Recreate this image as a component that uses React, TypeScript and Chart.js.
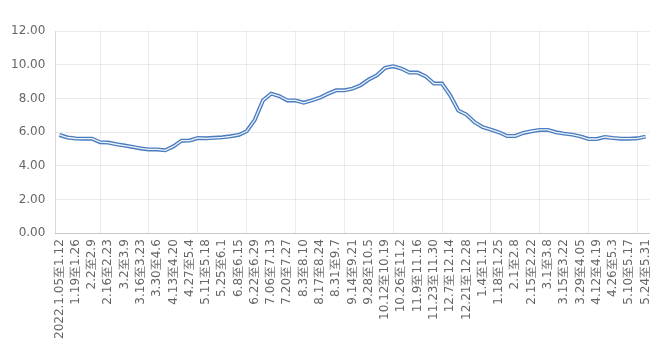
import React, { useEffect, useRef } from "react";
import { Chart, registerables } from "chart.js";

Chart.register(...registerables);

const weekLabels: string[] = [
  "2022.1.05至1.12", "1.12至1.19", "1.19至1.26", "1.26至2.2", "2.2至2.9", "2.9至2.16",
  "2.16至2.23", "2.23至3.2", "3.2至3.9", "3.9至3.16", "3.16至3.23", "3.23至3.30",
  "3.30至4.6", "4.6至4.13", "4.13至4.20", "4.20至4.27", "4.27至5.4", "5.4至5.11",
  "5.11至5.18", "5.18至5.25", "5.25至6.1", "6.1至6.8", "6.8至6.15", "6.15至6.22",
  "6.22至6.29", "6.29至7.06", "7.06至7.13", "7.13至7.20", "7.20至7.27", "7.27至8.3",
  "8.3至8.10", "8.10至8.17", "8.17至8.24", "8.24至8.31", "8.31至9.7", "9.7至9.14",
  "9.14至9.21", "9.21至9.28", "9.28至10.5", "10.5至10.12", "10.12至10.19", "10.19至10.26",
  "10.26至11.2", "11.2至11.9", "11.9至11.16", "11.16至11.23", "11.23至11.30", "11.30至12.7",
  "12.7至12.14", "12.14至12.21", "12.21至12.28", "12.28至1.4", "1.4至1.11", "1.11至1.18",
  "1.18至1.25", "1.25至2.1", "2.1至2.8", "2.8至2.15", "2.15至2.22", "2.22至3.1",
  "3.1至3.8", "3.8至3.15", "3.15至3.22", "3.22至3.29", "3.29至4.05", "4.05至4.12",
  "4.12至4.19", "4.19至4.26", "4.26至5.3", "5.3至5.10", "5.10至5.17", "5.17至5.24",
  "5.24至5.31",
];

const priceValues: number[] = [
  5.83, 5.68, 5.62, 5.61, 5.61, 5.40, 5.38, 5.28, 5.20, 5.12,
  5.03, 4.97, 4.97, 4.92, 5.15, 5.49, 5.50, 5.65, 5.63, 5.66,
  5.69, 5.75, 5.83, 6.05, 6.73, 7.88, 8.28, 8.14, 7.88, 7.88,
  7.74, 7.88, 8.04, 8.28, 8.48, 8.48, 8.58, 8.78, 9.12, 9.37,
  9.81, 9.91, 9.77, 9.53, 9.53, 9.31, 8.88, 8.88, 8.18, 7.28,
  7.04, 6.59, 6.29, 6.15, 5.99, 5.77, 5.77, 5.95, 6.05, 6.13,
  6.13, 5.99, 5.91, 5.85, 5.75, 5.59, 5.59, 5.71, 5.65, 5.61,
  5.61, 5.63, 5.73,
];

const yTicks: number[] = [0, 2, 4, 6, 8, 10, 12];

const FONT = "'DejaVu Sans', sans-serif";

export default function App() {
  const ref = useRef<HTMLCanvasElement | null>(null);

  useEffect(() => {
    if (!ref.current) return;
    const chart = new Chart(ref.current, {
      type: "line",
      data: {
        labels: weekLabels,
        datasets: [
          {
            label: "inner",
            data: priceValues,
            borderColor: "#eef3fa",
            borderWidth: 1.3,
            pointRadius: 0,
            tension: 0,
            fill: false,
            order: 0,
          },
          {
            label: "outer",
            data: priceValues,
            borderColor: "#4a7cc0",
            borderWidth: 4,
            pointRadius: 0,
            tension: 0,
            fill: false,
            order: 1,
          },
        ],
      },
      options: {
        animation: false,
        responsive: true,
        maintainAspectRatio: false,
        layout: { padding: { left: 1, right: 9, top: 31, bottom: 6 } },
        plugins: {
          legend: { display: false },
          tooltip: { enabled: false },
        },
        scales: {
          x: {
            type: "category",
            offset: true,
            grid: {
              offset: true,
              drawTicks: false,
              color: (ctx: any) =>
                ctx.index % 3 === 0 ? "rgba(0,0,0,0.08)" : "rgba(0,0,0,0)",
            },
            border: { color: "rgba(0,0,0,0.15)" },
            ticks: {
              autoSkip: false,
              minRotation: 90,
              maxRotation: 90,
              padding: 6,
              color: "#666",
              font: { family: FONT, size: 12 },
              callback: (_v: any, i: number) => (i % 2 === 0 ? weekLabels[i] : null),
            },
          },
          y: {
            min: yTicks[0],
            max: yTicks[yTicks.length - 1],
            afterBuildTicks: (axis: any) => {
              axis.ticks = yTicks.map((v) => ({ value: v }));
            },
            grid: { drawTicks: false, color: "rgba(0,0,0,0.08)" },
            border: { color: "rgba(0,0,0,0.15)" },
            ticks: {
              padding: 10,
              color: "#666",
              font: { family: FONT, size: 12 },
              callback: (v: any) => Number(v).toFixed(2),
            },
          },
        },
      },
    });
    return () => chart.destroy();
  }, []);

  return (
    <div style={{ position: "fixed", left: 0, top: 0, width: 666, height: 351 }}>
      <canvas ref={ref} />
    </div>
  );
}
